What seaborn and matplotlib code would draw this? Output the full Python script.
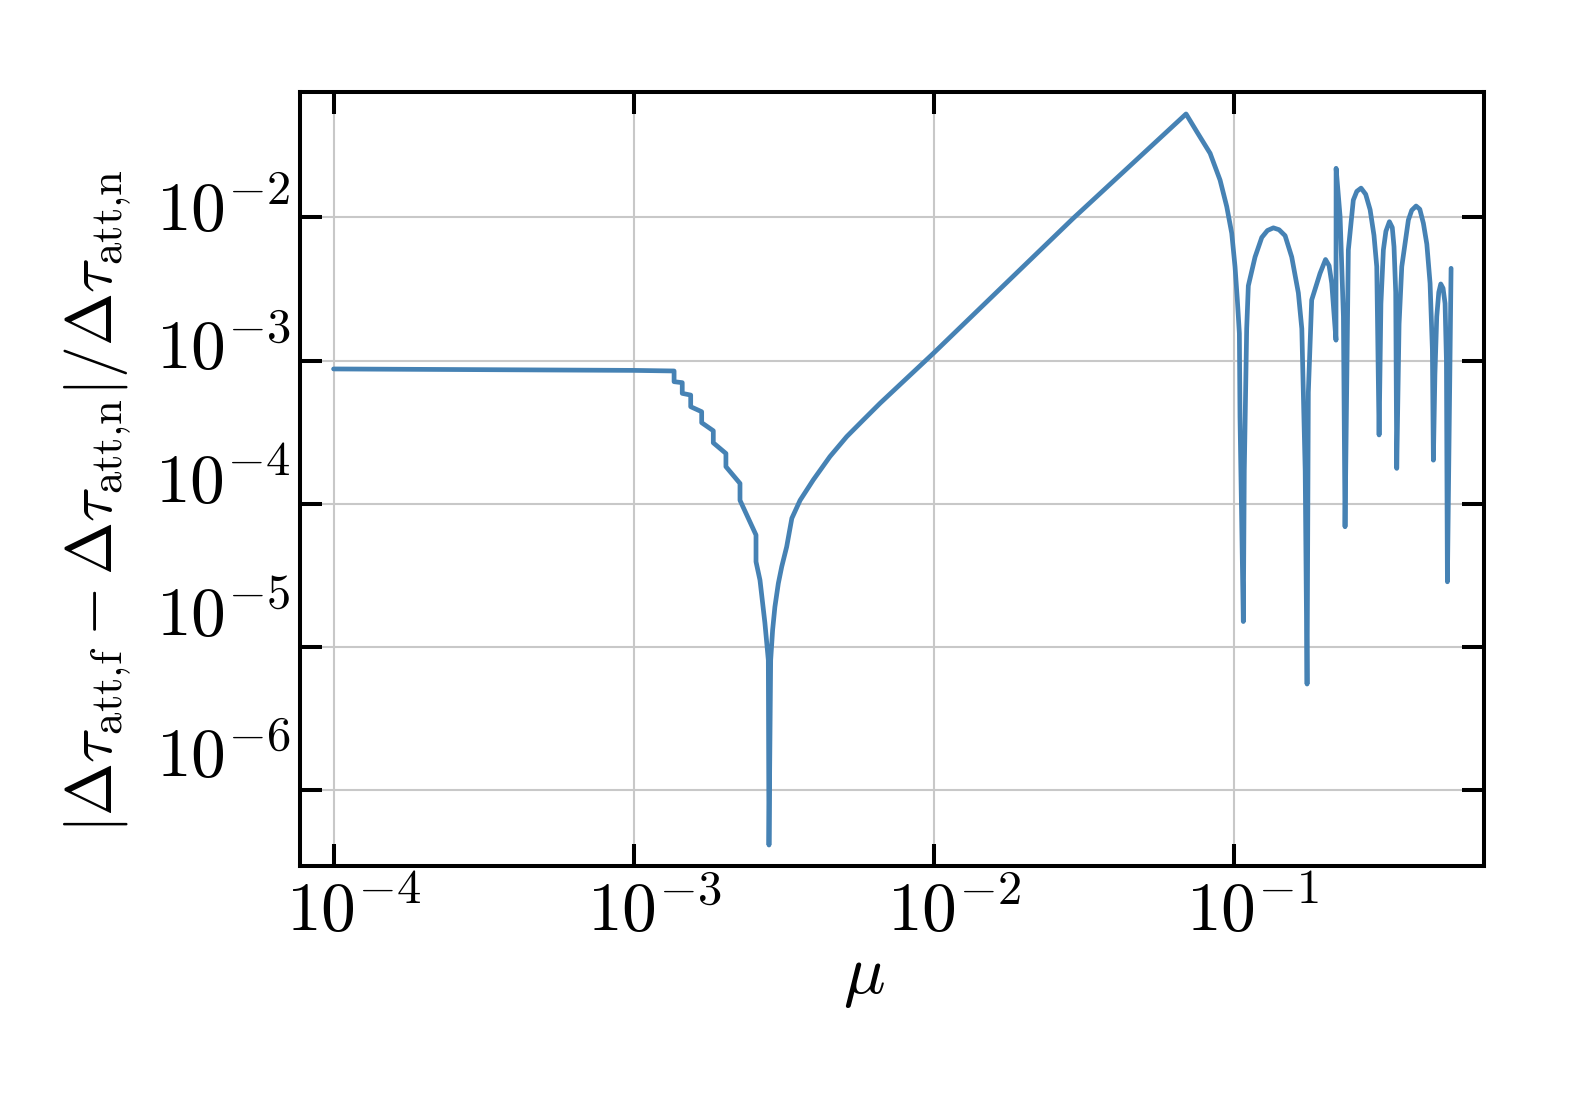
import numpy as np
import pandas as pd
import matplotlib
matplotlib.use("Agg")
import matplotlib.pyplot as plt
import matplotlib.transforms as mtransforms
import seaborn as sns

# flat part at small mu
mu_flat = [1.0e-4, 1.0e-3, 1.362e-3]
err_flat = [8.75e-4, 8.55e-4, 8.47e-4]

# staircase going down towards the first notch
mu_stairs = [1.362e-3, 1.450e-3, 1.450e-3, 1.547e-3, 1.547e-3, 1.683e-3, 1.683e-3,
             1.840e-3, 1.840e-3, 2.027e-3, 2.027e-3, 2.258e-3, 2.258e-3, 2.553e-3, 2.553e-3]
err_stairs = [7.13e-4, 7.02e-4, 5.91e-4, 5.75e-4, 4.77e-4, 4.40e-4, 3.69e-4,
              3.24e-4, 2.67e-4, 2.25e-4, 1.82e-4, 1.39e-4, 1.06e-4, 6.07e-5, 3.95e-5]

# notch near 2.8e-3
mu_notch = [2.632e-3, 2.733e-3, 2.806e-3, 2.820e-3, 2.857e-3, 2.90e-3, 2.951e-3, 3.03e-3,
            3.11e-3, 3.23e-3]
err_notch = [2.94e-5, 1.48e-5, 8.13e-6, 4.16e-7, 8.13e-6, 1.32e-5, 1.91e-5, 2.79e-5,
             3.65e-5, 5.02e-5]

# rise up to the peak, then fall into the oscillations
mu_rise = [3.36e-3, 3.58e-3, 3.96e-3, 4.50e-3, 5.12e-3, 5.81e-3, 6.61e-3, 8.11e-3, 9.95e-3,
           2.91e-2, 6.91e-2, 7.50e-2, 8.31e-2, 8.97e-2, 9.44e-2, 9.81e-2, 0.1006, 0.1024,
           0.1040, 0.1045]
err_rise = [7.93e-5, 1.06e-4, 1.47e-4, 2.14e-4, 2.95e-4, 3.85e-4, 5.04e-4, 7.53e-4, 1.125e-3,
            9.86e-3, 5.27e-2, 3.97e-2, 2.80e-2, 1.82e-2, 1.19e-2, 7.74e-3, 4.53e-3, 2.65e-3,
            1.55e-3, 4.07e-4]

# oscillating tail
mu_osc = [0.1072, 0.1080, 0.1100, 0.1114, 0.1173, 0.1235, 0.1290, 0.1350, 0.1410, 0.1477,
          0.1554, 0.1635, 0.1679, 0.1723, 0.1748,
          0.1765, 0.1811, 0.1931, 0.2014, 0.2070, 0.2112, 0.2182,
          0.2184, 0.2252, 0.2310, 0.2339,
          0.2399, 0.2492, 0.2560, 0.2645, 0.2740, 0.2835, 0.2920, 0.2983, 0.3037,
          0.3080, 0.3138, 0.3200, 0.3287, 0.3360, 0.3405, 0.3450, 0.3477,
          0.3540, 0.3614, 0.3802, 0.3900, 0.4033, 0.4150, 0.4266, 0.4380, 0.4490, 0.4570, 0.4605,
          0.4660, 0.4726, 0.4800, 0.4874, 0.4960, 0.5037, 0.5090, 0.5128, 0.5275]
err_osc = [1.51e-5, 1.70e-4, 1.67e-3, 3.33e-3, 5.29e-3, 7.24e-3, 8.10e-3, 8.45e-3, 8.20e-3, 7.45e-3,
           5.29e-3, 2.97e-3, 1.67e-3, 1.70e-4, 5.53e-6,
           6.0e-4, 2.65e-3, 4.07e-3, 5.08e-3, 4.60e-3, 3.47e-3, 1.39e-3,
           2.20e-2, 1.01e-2, 2.03e-3, 6.93e-5,
           5.92e-3, 1.32e-2, 1.52e-2, 1.60e-2, 1.45e-2, 1.13e-2, 7.5e-3, 4.53e-3, 3.03e-4,
           2.5e-3, 5.92e-3, 8.0e-3, 9.33e-3, 8.5e-3, 6.24e-3, 3.0e-3, 1.77e-4,
           1.8e-3, 4.53e-3, 9.59e-3, 1.12e-2, 1.20e-2, 1.14e-2, 9.09e-3, 6.5e-3, 3.47e-3, 1.2e-3, 2.02e-4,
           8.0e-4, 2.03e-3, 3.0e-3, 3.43e-3, 3.2e-3, 2.51e-3, 1.0e-3, 2.86e-5, 4.41e-3]

xticks = [1e-4, 1e-3, 1e-2, 1e-1]
xticklabels = [r"$10^{-4}$", r"$10^{-3}$", r"$10^{-2}$", r"$10^{-1}$"]
yticks = [1e-2, 1e-3, 1e-4, 1e-5, 1e-6]
yticklabels = [r"$10^{-2}$", r"$10^{-3}$", r"$10^{-4}$", r"$10^{-5}$", r"$10^{-6}$"]

df = pd.DataFrame({
    "mu": mu_flat + mu_stairs + mu_notch + mu_rise + mu_osc,
    "err": err_flat + err_stairs + err_notch + err_rise + err_osc,
})

sns.set_theme(style="ticks")
plt.rcParams["mathtext.fontset"] = "cm"
plt.rcParams["font.family"] = ["DejaVu Serif"]
for key in ["text.color", "axes.labelcolor", "xtick.color", "ytick.color", "axes.edgecolor"]:
    plt.rcParams[key] = "black"

fig = plt.figure(figsize=(15.76, 11.11), dpi=100)
ax = fig.add_axes([300 / 1576, 1 - 866 / 1111, 1184 / 1576, 774 / 1111])

sns.lineplot(data=df, x="mu", y="err", sort=False, estimator=None,
             color="steelblue", linewidth=3.4, ax=ax)

ax.set_xscale("log")
ax.set_yscale("log")
ax.set_xlim(7.73e-5, 0.679)
ax.set_ylim(2.97e-7, 0.0750)

ax.set_xticks(xticks)
ax.set_xticklabels(xticklabels)
ax.set_yticks(yticks)
ax.set_yticklabels(yticklabels)
ax.minorticks_off()

ax.tick_params(which="major", direction="in", top=True, right=True,
               length=16, width=2.9, labelsize=50, colors="black")
ax.tick_params(axis="x", pad=9)
ax.tick_params(axis="y", pad=7)
for s in ax.spines.values():
    s.set_linewidth(2.9)
    s.set_color("black")
ax.grid(True, color="#c8c8c8", linewidth=1.5)

ax.set_xlabel(r"$\mu$", fontsize=50)
ax.set_ylabel(r"$|\Delta\tau_{\mathrm{att{,}f}} - \Delta\tau_{\mathrm{att{,}n}}|/\Delta\tau_{\mathrm{att{,}n}}$",
              fontsize=46)
ax.xaxis.set_label_coords(0.476, -0.100)
ax.yaxis.set_label_coords(-0.140, 0.471)

# the tick labels in the original sit a bit off their ticks
x_shift_px = [20, 20, 20, 18]
y_shift_px = [13, 18, 27, 38, 40]
for lab, dx in zip(ax.get_xticklabels(), x_shift_px):
    lab.set_transform(lab.get_transform() + mtransforms.ScaledTranslation(dx / 100, 0, fig.dpi_scale_trans))
for lab, dy in zip(ax.get_yticklabels(), y_shift_px):
    lab.set_transform(lab.get_transform() + mtransforms.ScaledTranslation(0, dy / 100, fig.dpi_scale_trans))

fig.savefig("out.png", dpi=100)
